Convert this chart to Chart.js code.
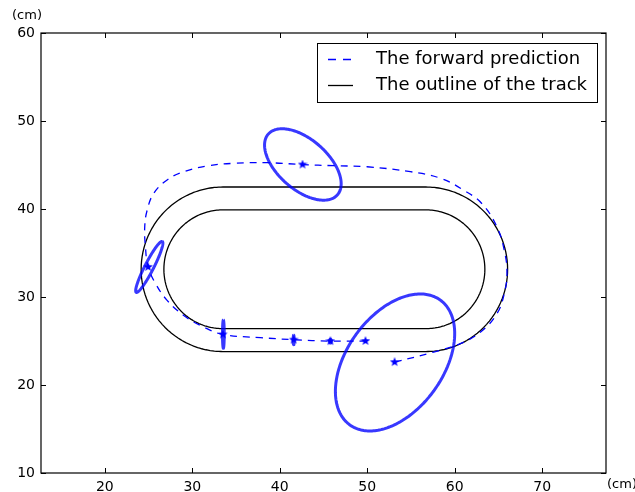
<!DOCTYPE html>
<html>
<head>
<meta charset="utf-8">
<script src="https://cdn.jsdelivr.net/npm/chart.js@4/dist/chart.umd.min.js"></script>
<style>
  html, body { margin: 0; padding: 0; background: #fff; }
  #chart { display: block; }
</style>
</head>
<body>
<canvas id="chart" width="635" height="492"></canvas>
<script>
// axis ticks
const xTicks = [20, 30, 40, 50, 60, 70];
const yTicks = [10, 20, 30, 40, 50, 60];
const xRange = [12.7, 77.3];
const yRange = [10, 60];

// forward prediction path (cm)
const predX = [53.13, 57.59, 60.64, 62.93, 64.83, 65.67, 65.98, 65.67, 64.83, 63.12, 61.0, 58.36, 54.93, 49.98, 46.16, 42.6, 38.55, 34.73, 31.7, 29.02, 27.12, 25.59, 24.84, 24.56, 24.64, 24.95, 25.79, 27.12, 29.02, 31.3, 33.5, 37.79, 41.59, 45.79, 49.8];
const predY = [22.6, 23.74, 24.7, 26.0, 28.1, 30.4, 32.7, 35.3, 37.97, 40.6, 42.15, 43.5, 44.24, 44.8, 44.92, 45.05, 45.26, 45.19, 44.89, 44.24, 43.3, 41.78, 39.87, 37.97, 35.7, 33.42, 31.53, 29.62, 27.9, 26.58, 25.75, 25.38, 25.15, 24.99, 25.0];

// predicted positions (stars)
const starX = [53.13, 42.6, 24.95, 33.5, 41.59, 45.79, 49.8];
const starY = [22.6, 45.05, 33.42, 25.75, 25.15, 24.99, 25.0];

// uncertainty ellipses: centre, semi-axes, angle (deg)
const ellCx = [42.64, 25.08, 33.55, 41.59, 45.79, 53.18];
const ellCy = [45.06, 33.42, 25.78, 25.12, 24.99, 22.56];
const ellA = [5.25, 3.25, 1.6, 0.54, 0.22, 8.78];
const ellB = [2.85, 0.5, 0.1, 0.06, 0.1, 5.48];
const ellAngle = [-41, 62.7, 90, 90, 90, 53.7];

// track outline: straights between trackX, centre line y, radii
const trackX = [33.5, 56.7];
const trackCy = 33.15;
const trackRadii = [9.35, 6.75];

function ellipsePoints(cx, cy, a, b, deg) {
  const pts = [];
  const t = deg * Math.PI / 180;
  for (let i = 0; i <= 120; i++) {
    const u = i / 120 * 2 * Math.PI;
    const ex = a * Math.cos(u), ey = b * Math.sin(u);
    pts.push({ x: cx + ex * Math.cos(t) - ey * Math.sin(t), y: cy + ex * Math.sin(t) + ey * Math.cos(t) });
  }
  return pts;
}

function trackPoints(r) {
  const pts = [];
  // right half circle, bottom to top
  for (let i = 0; i <= 60; i++) {
    const u = -Math.PI / 2 + i / 60 * Math.PI;
    pts.push({ x: trackX[1] + r * Math.cos(u), y: trackCy + r * Math.sin(u) });
  }
  // left half circle, top to bottom
  for (let i = 0; i <= 60; i++) {
    const u = Math.PI / 2 + i / 60 * Math.PI;
    pts.push({ x: trackX[0] + r * Math.cos(u), y: trackCy + r * Math.sin(u) });
  }
  pts.push({ x: trackX[1], y: trackCy - r });
  return pts;
}

// filled five point star like matplotlib '*'
function makeStar(size, color) {
  const c = document.createElement('canvas');
  c.width = size; c.height = size;
  const g = c.getContext('2d');
  const R = size / 2, r = R * 0.42;
  g.beginPath();
  for (let i = 0; i < 10; i++) {
    const rad = i % 2 === 0 ? R : r;
    const a = -Math.PI / 2 + i * Math.PI / 5;
    const px = R + rad * Math.cos(a), py = R + rad * Math.sin(a);
    if (i === 0) g.moveTo(px, py); else g.lineTo(px, py);
  }
  g.closePath();
  g.fillStyle = color;
  g.fill();
  return c;
}

const datasets = [];

// tiny tension keeps chart.js off its pixel-collapsing fast path
trackRadii.forEach(r => {
  datasets.push({
    data: trackPoints(r),
    showLine: true,
    borderColor: '#000',
    borderWidth: 1.3,
    pointRadius: 0,
    tension: 0.0001,
    order: 5
  });
});

datasets.push({
  data: predX.map((x, i) => ({ x: x, y: predY[i] })),
  showLine: true,
  borderColor: '#0000ff',
  borderWidth: 1.3,
  borderDash: [7, 6],
  pointRadius: 0,
  tension: 0.4,
  order: 4
});

for (let i = 0; i < ellCx.length; i++) {
  datasets.push({
    data: ellipsePoints(ellCx[i], ellCy[i], ellA[i], ellB[i], ellAngle[i]),
    showLine: true,
    borderColor: 'rgba(0,0,255,0.78)',
    borderWidth: 3,
    pointRadius: 0,
    tension: 0.0001,
    order: 3
  });
}

datasets.push({
  data: starX.map((x, i) => ({ x: x, y: starY[i] })),
  showLine: false,
  pointStyle: makeStar(10, '#0000ff'),
  pointRadius: 5,
  order: 1
});

const FONT = 'DejaVu Sans';

const decorPlugin = {
  id: 'decor',
  afterDraw(chart) {
    const ctx = chart.ctx;
    const a = chart.chartArea;
    const xs = chart.scales.x, ys = chart.scales.y;
    ctx.save();
    ctx.strokeStyle = '#000';
    ctx.lineWidth = 1.2;
    ctx.strokeRect(a.left, a.top, a.right - a.left, a.bottom - a.top);
    ctx.lineWidth = 1;
    ctx.beginPath();
    xTicks.forEach(v => {
      const px = Math.round(xs.getPixelForValue(v)) + 0.5;
      ctx.moveTo(px, a.bottom); ctx.lineTo(px, a.bottom - 5);
      ctx.moveTo(px, a.top); ctx.lineTo(px, a.top + 5);
    });
    yTicks.forEach(v => {
      const py = Math.round(ys.getPixelForValue(v)) + 0.5;
      ctx.moveTo(a.left, py); ctx.lineTo(a.left + 5, py);
      ctx.moveTo(a.right, py); ctx.lineTo(a.right - 5, py);
    });
    ctx.stroke();

    // unit labels
    ctx.fillStyle = '#000';
    ctx.font = '13px "' + FONT + '"';
    ctx.textBaseline = 'middle';
    ctx.textAlign = 'left';
    ctx.fillText('(cm)', 12, 16);
    ctx.fillText('(cm)', a.right + 1, 485);

    // legend
    const lx = 317, ly = 43, lw = 280, lh = 59;
    ctx.fillStyle = '#fff';
    ctx.fillRect(lx, ly, lw, lh);
    ctx.strokeStyle = '#000';
    ctx.lineWidth = 1;
    ctx.strokeRect(lx + 0.5, ly + 0.5, lw, lh);
    ctx.lineWidth = 1.3;
    ctx.strokeStyle = '#0000ff';
    ctx.setLineDash([8, 7]);
    ctx.beginPath(); ctx.moveTo(328, 59.5); ctx.lineTo(353, 59.5); ctx.stroke();
    ctx.setLineDash([]);
    ctx.strokeStyle = '#000';
    ctx.beginPath(); ctx.moveTo(328, 85.5); ctx.lineTo(353, 85.5); ctx.stroke();
    ctx.fillStyle = '#000';
    ctx.font = '18px "' + FONT + '"';
    ctx.fillText('The forward prediction', 376, 59);
    ctx.fillText('The outline of the track', 376, 85);
    ctx.restore();
  }
};

new Chart(document.getElementById('chart'), {
  type: 'scatter',
  data: { datasets: datasets },
  options: {
    responsive: false,
    animation: false,
    layout: { padding: { top: 33, right: 29, left: 0, bottom: 0 } },
    plugins: { legend: { display: false }, tooltip: { enabled: false } },
    scales: {
      x: {
        type: 'linear',
        min: xRange[0],
        max: xRange[1],
        afterBuildTicks: s => { s.ticks = xTicks.map(v => ({ value: v })); },
        afterFit: s => { s.height = 19; },
        grid: { display: false, drawTicks: false },
        border: { display: false },
        ticks: { color: '#000', padding: 6, font: { family: FONT, size: 14 }, maxRotation: 0 }
      },
      y: {
        type: 'linear',
        min: yRange[0],
        max: yRange[1],
        afterBuildTicks: s => { s.ticks = yTicks.map(v => ({ value: v })); },
        afterFit: s => { s.width = 41; },
        grid: { display: false, drawTicks: false },
        border: { display: false },
        ticks: { color: '#000', padding: 6, font: { family: FONT, size: 14 } }
      }
    }
  },
  plugins: [decorPlugin]
});
</script>
</body>
</html>
